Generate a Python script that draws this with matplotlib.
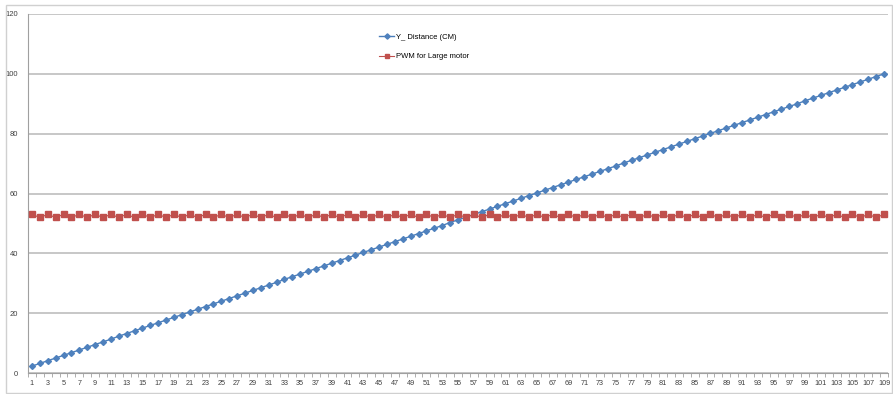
import matplotlib
matplotlib.use("Agg")
import matplotlib.pyplot as plt
from matplotlib.patches import Rectangle

plt.rcParams['font.family'] = ['Liberation Sans', 'DejaVu Sans']

samples = list(range(1, 110))

y_distance = [
    2.3, 3.2, 4.1, 5.0, 5.9, 6.8, 7.7, 8.6, 9.5, 10.4,
    11.3, 12.3, 13.2, 14.1, 15.0, 15.9, 16.8, 17.7, 18.6, 19.5,
    20.4, 21.3, 22.2, 23.1, 24.0, 24.9, 25.8, 26.7, 27.6, 28.5,
    29.4, 30.3, 31.3, 32.2, 33.1, 34.0, 34.9, 35.8, 36.7, 37.6,
    38.5, 39.4, 40.3, 41.2, 42.1, 43.0, 43.9, 44.8, 45.7, 46.6,
    47.5, 48.4, 49.3, 50.3, 51.2, 52.1, 53.0, 53.9, 54.8, 55.7,
    56.6, 57.5, 58.4, 59.3, 60.2, 61.1, 62.0, 62.9, 63.8, 64.7,
    65.6, 66.5, 67.4, 68.3, 69.2, 70.2, 71.1, 72.0, 72.9, 73.8,
    74.7, 75.6, 76.5, 77.4, 78.3, 79.2, 80.1, 81.0, 81.9, 82.8,
    83.7, 84.6, 85.5, 86.4, 87.3, 88.2, 89.1, 90.0, 91.0, 91.9,
    92.8, 93.7, 94.6, 95.5, 96.4, 97.3, 98.2, 99.1, 100.0,
]

pwm_large_motor = [
    53, 52, 53, 52, 53, 52, 53, 52, 53, 52,
    53, 52, 53, 52, 53, 52, 53, 52, 53, 52,
    53, 52, 53, 52, 53, 52, 53, 52, 53, 52,
    53, 52, 53, 52, 53, 52, 53, 52, 53, 52,
    53, 52, 53, 52, 53, 52, 53, 52, 53, 52,
    53, 52, 53, 52, 53, 52, 53, 52, 53, 52,
    53, 52, 53, 52, 53, 52, 53, 52, 53, 52,
    53, 52, 53, 52, 53, 52, 53, 52, 53, 52,
    53, 52, 53, 52, 53, 52, 53, 52, 53, 52,
    53, 52, 53, 52, 53, 52, 53, 52, 53, 52,
    53, 52, 53, 52, 53, 52, 53, 52, 53,
]

series_labels = ["Y_ Distance (CM)", "PWM for Large motor"]
y_ticks = [0, 20, 40, 60, 80, 100, 120]

fig = plt.figure(figsize=(8.93, 3.94), dpi=100)
fig.patches.append(Rectangle((6 / 893, 1.5 / 394), 886 / 893, 387.5 / 394,
                             transform=fig.transFigure, fill=False,
                             edgecolor='#d0d0d0', linewidth=1.0))

ax = fig.add_axes([28 / 893, 21 / 394, 860 / 893, 359 / 394])

ax.plot(samples, y_distance, color='#4a7ebb', linewidth=1.0,
        marker='D', markersize=3.0, markerfacecolor='#4f81bd',
        markeredgecolor='#4f81bd', label=series_labels[0], zorder=3)
ax.plot(samples, pwm_large_motor, color='#c0504d', linewidth=0.8,
        marker='s', markersize=3.8, markerfacecolor='#c0504d',
        markeredgecolor='#c0504d', label=series_labels[1], zorder=3)

ax.set_xlim(0.5, 109.5)
ax.set_ylim(0, 120)
ax.set_yticks(y_ticks)
ax.set_yticklabels([str(t) for t in y_ticks], fontsize=5.5, color='#404040')
ax.yaxis.grid(True, color='#bdbdbd', linewidth=1.2)
ax.set_axisbelow(True)
ax.tick_params(axis='y', length=0, pad=7)

ax.set_xticks(samples[::2])
ax.set_xticklabels([str(s) for s in samples[::2]], fontsize=5.2, color='#404040')
ax.set_xticks([s + 0.5 for s in range(0, 110)], minor=True)
ax.tick_params(axis='x', which='major', length=0, pad=5)
ax.tick_params(axis='x', which='minor', length=3, color='#a0a0a0', width=0.6)

for side in ('top', 'right'):
    ax.spines[side].set_visible(False)
ax.spines['left'].set_color('#a0a0a0')
ax.spines['bottom'].set_color('#a0a0a0')
ax.spines['left'].set_linewidth(0.8)
ax.spines['bottom'].set_linewidth(0.8)

ax.legend(loc='upper left', bbox_to_anchor=(0.4, 0.965), frameon=False,
          fontsize=5.5, labelspacing=1.6, handlelength=2.0, handletextpad=0.3,
          markerscale=0.9)

fig.savefig("out.png", dpi=100)
